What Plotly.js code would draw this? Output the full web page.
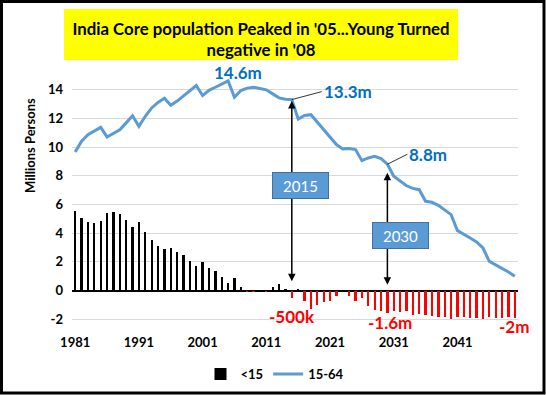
<!DOCTYPE html>
<html>
<head>
<meta charset="utf-8">
<script src="https://cdn.plot.ly/plotly-3.0.1.min.js"></script>
<style>html,body{margin:0;padding:0;background:#fff;}#chart{width:546px;height:395px;}</style>
</head>
<body>
<div id="chart"></div>
<script>
const years = [1981,1982,1983,1984,1985,1986,1987,1988,1989,1990,
  1991,1992,1993,1994,1995,1996,1997,1998,1999,2000,
  2001,2002,2003,2004,2005,2006,2007,2008,2009,2010,
  2011,2012,2013,2014,2015,2016,2017,2018,2019,2020,
  2021,2022,2023,2024,2025,2026,2027,2028,2029,2030,
  2031,2032,2033,2034,2035,2036,2037,2038,2039,2040,
  2041,2042,2043,2044,2045,2046,2047,2048,2049,2050];
const under15 = [5.57,5.08,4.80,4.71,4.87,5.43,5.50,5.36,4.94,4.46,
  4.80,4.08,3.55,3.13,2.92,2.97,2.69,2.45,2.05,1.70,
  1.97,1.61,1.36,0.93,0.53,0.88,0.23,-0.08,-0.12,0.0,
  -0.12,0.23,0.46,0.12,-0.50,0.10,-0.74,-1.30,-1.02,-0.77,
  -0.72,-0.35,-0.02,-0.40,-0.74,-0.53,-1.09,-1.32,-1.44,-1.55,
  -1.39,-1.50,-1.44,-1.67,-1.62,-1.67,-1.79,-1.83,-1.83,-1.97,
  -1.83,-1.83,-1.90,-1.90,-1.97,-1.83,-1.90,-1.90,-1.83,-1.90];
const age1564 = [9.65,10.40,10.86,11.14,11.37,10.70,10.93,11.20,11.68,12.17,
  11.44,12.14,12.72,13.10,13.40,12.90,13.20,13.55,13.88,14.28,
  13.58,13.95,14.16,14.40,14.60,13.46,13.93,14.10,14.16,14.07,
  13.98,13.70,13.42,13.32,13.30,11.95,12.20,12.25,11.74,11.20,
  10.68,10.17,9.87,9.89,9.82,9.05,9.24,9.35,9.19,8.80,
  7.96,7.64,7.30,7.12,7.03,6.22,6.15,5.94,5.64,5.29,
  4.18,3.95,3.67,3.39,2.97,2.04,1.81,1.58,1.30,1.00];
const xTickVals = [1981,1991,2001,2011,2021,2031,2041];
const xTickText = ['1981','1991','2001','2011','2021','2031','2041'];
const yTickVals = [-2,0,2,4,6,8,10,12,14];
const yTickText = ['-2','0','2','4','6','8','10','12','14'];
const seriesNames = ['<15','15-64'];

const W = 546, H = 395;
const M = {l:72, r:28, t:68, b:67, autoexpand:false};
const PW = W - M.l - M.r, PH = H - M.t - M.b;
const px = v => (v - M.l) / PW;
const py = v => (H - M.b - v) / PH;
const FONT = 'Lato, "Open Sans", sans-serif';

const barColors = under15.map(v => v < 0 ? '#ff0000' : '#000000');

const traces = [
  {type:'bar', name:seriesNames[0], x:years, y:under15, width:0.36,
   marker:{color:barColors, line:{width:0}}},
  {type:'scatter', mode:'lines', name:seriesNames[1], x:years, y:age1564,
   line:{color:'#5b9bd5', width:3}}
];

const blue = '#0070c0', red = '#ff0000';
const lbl = (text, x, y, color, extra) => Object.assign({text, x, y, xref:'x', yref:'y', showarrow:false,
  font:{family:FONT, size:17, weight:'bold', color}}, extra||{});

const annotations = [
  {text:'Millions Persons', xref:'paper', yref:'paper', x:px(30), y:py(146), xanchor:'center', yanchor:'middle',
   textangle:-90, showarrow:false, font:{family:FONT, size:13, weight:'bold', color:'#000'}},
  lbl('14.6m', 2006.6, 15.18, blue),
  lbl('13.3m', 2015, 13.3, blue, {showarrow:true, ax:30, ay:-8, xanchor:'left', arrowhead:0, arrowwidth:0.8, arrowcolor:'#000'}),
  lbl('8.8m', 2030, 8.8, blue, {showarrow:true, ax:20, ay:-10, xanchor:'left', arrowhead:0, arrowwidth:0.8, arrowcolor:'#000'}),
  lbl('1m', 2050.6, 2.04, blue),
  lbl('-500k', 2015.05, -1.83, red),
  lbl('-1.6m', 2030.4, -2.2, red),
  lbl('-2m', 2049.9, -2.5, red),
  {text:'', x:2015, y:13.2, ax:2015, ay:0.55, xref:'x', yref:'y', axref:'x', ayref:'y', showarrow:true,
   arrowside:'end+start', arrowhead:2, arrowsize:1, arrowwidth:1.5, arrowcolor:'#000'},
  {text:'', x:2030, y:8.2, ax:2030, ay:0.3, xref:'x', yref:'y', axref:'x', ayref:'y', showarrow:true,
   arrowside:'end+start', arrowhead:2, arrowsize:1, arrowwidth:1.5, arrowcolor:'#000'},
  {text:'2015', x:2016.4, y:7.35, xref:'x', yref:'y', showarrow:false, bgcolor:'#5b9bd5', bordercolor:'#41719c',
   borderwidth:1, width:53, height:23, font:{family:FONT, size:15, color:'#fff'}},
  {text:'2030', x:2032.0, y:3.87, xref:'x', yref:'y', showarrow:false, bgcolor:'#5b9bd5', bordercolor:'#41719c',
   borderwidth:1, width:53, height:23, font:{family:FONT, size:15, color:'#fff'}}
];

const shapes = [
  {type:'rect', xref:'paper', yref:'paper', x0:px(64), x1:px(458), y0:py(60), y1:py(9),
   fillcolor:'#ffff00', line:{width:0}, layer:'below'},
  {type:'rect', xref:'paper', yref:'paper', x0:px(1.5), x1:px(544), y0:py(393), y1:py(1.5),
   fillcolor:'rgba(0,0,0,0)', line:{width:3, color:'#000'}}
];

const layout = {
  width:W, height:H, margin:M,
  paper_bgcolor:'#fff', plot_bgcolor:'#fff',
  font:{family:FONT, color:'#000'},
  title:{text:"India Core population Peaked in '05...Young Turned<br>negative in '08",
    font:{family:FONT, size:16.8, weight:'bold', color:'#000'},
    x:261/W, xanchor:'center', xref:'container', yref:'container', y:1-34.5/H, yanchor:'middle'},
  showlegend:true,
  legend:{orientation:'h', x:px(275), xanchor:'center', y:py(374), yanchor:'middle',
    font:{family:FONT, size:13, weight:'bold', color:'#000'}, itemwidth:30, bgcolor:'rgba(0,0,0,0)'},
  bargap:0,
  xaxis:{range:[1980.5, 2050.5], tickvals:xTickVals, ticktext:xTickText, showgrid:false, zeroline:false,
    showline:false, ticks:'', ticklabelstandoff:5, tickfont:{family:FONT, size:13, weight:'bold', color:'#000'}, fixedrange:true},
  yaxis:{range:[-2.6, 15.5], tickvals:yTickVals, ticktext:yTickText, showgrid:true, gridcolor:'#d9d9d9', gridwidth:1,
    zeroline:true, zerolinecolor:'#000', zerolinewidth:2, showline:false, ticks:'', ticklabelstandoff:8,
    tickfont:{family:FONT, size:13, weight:'bold', color:'#000'}, fixedrange:true},
  annotations, shapes, hovermode:false
};

Plotly.newPlot('chart', traces, layout, {displayModeBar:false, staticPlot:true});
</script>
</body>
</html>
